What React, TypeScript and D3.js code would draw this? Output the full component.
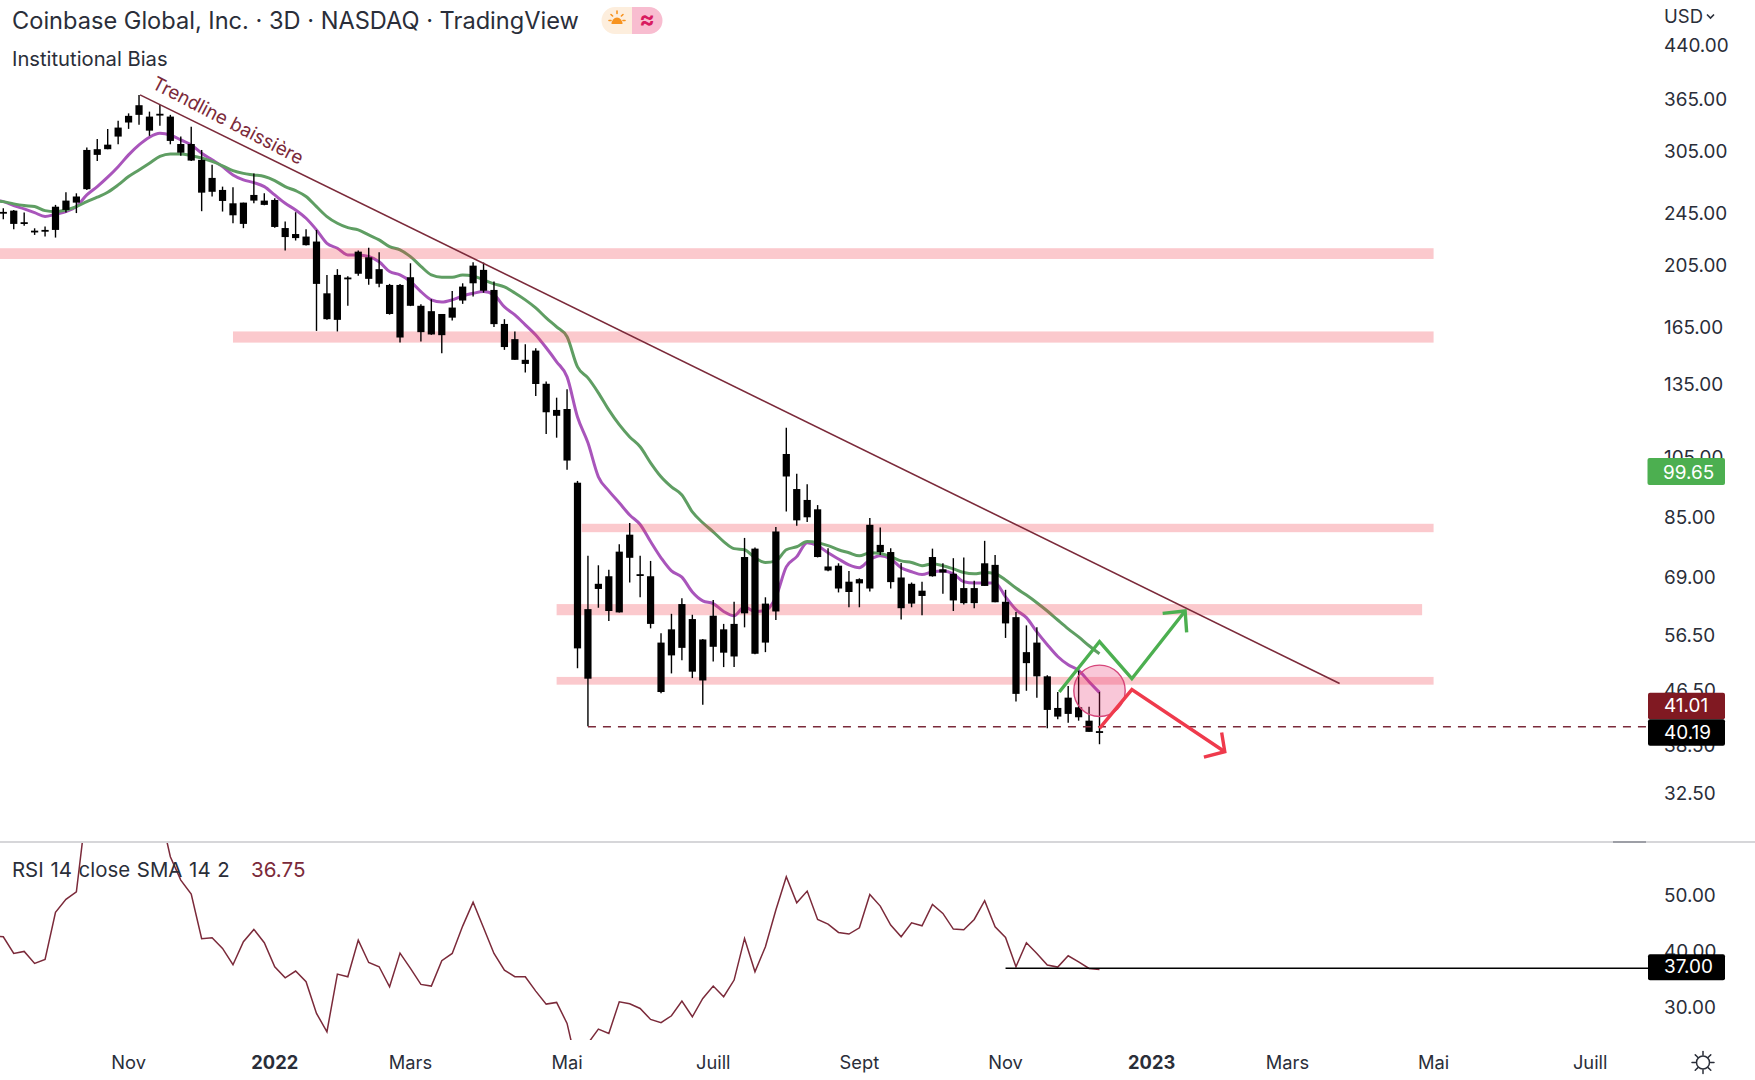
import React from "react";
import * as d3 from "d3";

const title = "Coinbase Global, Inc. · 3D · NASDAQ · TradingView";
const subtitle = "Institutional Bias";
const rsiLegend = "RSI 14 close SMA 14 2";

// Candle values in USD, index = 3-day bar number
const bodyTop = [246.6,247.7,237.9,231,231.6,251.1,256.5,260.2,306,306.8,311.7,330.8,344.6,357.6,343.7,347.1,343.7,312.4,312.4,295.6,277.6,266.2,254.1,254.7,261.6,256.5,257.1,233.1,228.3,226.3,222.4,185.7,198,196.2,214.7,210.5,202,191.2,191.2,196.4,177.8,174.5,172.8,176.7,190.1,204.5,201.5,187.9,166.9,158.3,147.3,152.1,135.5,123.7,124.1,96,61.8,67.5,69.3,75.5,80.1,69.8,69.3,55,57.6,62.9,59.7,55.6,60.4,57.6,58.7,74.1,76.3,63,81,106.1,93.9,90.4,87.5,71.7,71.9,68,68.6,82.9,77.3,75.4,69,67.5,65.9,74.1,71,69.9,66.5,66.5,72.5,72.1,63.4,60.1,53.2,55,48.9,43.8,45.4,43.9,41.9,40.4];
const bodyBottom = [245.5,236.5,236.8,230,230.5,231.6,248.3,254.7,266.9,300.8,306.8,320.6,336.7,345.8,327.3,345.8,315.8,303.1,294.9,263.7,264.5,256.2,243.7,236.5,256.5,252.7,234,225.9,225.1,219.6,191.9,169.7,169.3,195.3,198.8,195.3,192,172.8,159.2,177.8,162.2,160.9,160.5,170.6,181.1,192.3,187.4,166.8,154,147.3,145.2,135.4,122.7,121.2,103.7,53.9,48.5,66.3,61.4,61.1,73.9,69.5,58.7,46.3,52.6,54,49.7,48.2,54.2,53.1,52.4,60.9,52.9,55,61.3,98.1,84.2,85.1,74.1,70.7,66.4,65.6,67.6,66.4,75.4,67.9,62,63,64.7,69.3,70.2,63.7,63.1,63.1,67,63.3,58.8,46,51.2,48.9,43.5,42.5,42.9,42.4,40.3,40.19];
const highs = [249.8,248.3,246,232.9,234.3,252.7,264,263.1,308.5,318,329.3,338.9,347.6,370.7,349.7,358,345.8,320.6,331.9,306,290.5,269.3,268.7,254.7,282,263.1,258.7,238.4,246.3,232.2,231.6,198,202,197,215.5,217.7,214.3,191.9,191.9,206.2,178.7,181.9,172.8,187.2,192.3,206.9,206.7,193.5,169.7,162.6,155.5,153.3,136.6,129.1,133,96.6,74.4,72,70.9,77.5,83.4,74.4,73.1,56.8,60.8,64.2,60.6,55.7,63.8,58.7,63.4,79.2,76.6,64.4,82.3,116.3,99,95.5,88.8,76.4,72.5,70.6,68.8,84.9,82.1,76.4,72.6,67.8,68,76.3,72.5,73.8,74,68.2,78.4,74.6,66.1,61.2,58.4,58,49.1,46.3,47.3,49.9,44,46.3];
const lows = [240.4,232.2,235,227.6,226.3,225.5,246,245.6,266.2,294.5,306.8,312.1,329.3,334,321.4,332.8,312.1,300,294.5,247.2,260.2,246.9,237,233,254.1,252.4,233.4,215.5,223.2,219.4,162.9,169.3,162.6,177.8,197.4,191.3,189.7,172.4,156.4,177.6,157,160.7,150.7,168.9,179,183.6,186.1,165.2,152.5,147.3,140.9,129.9,113.8,112.3,100.4,50.3,41.1,62.1,59.3,61.1,67.8,64.4,57.8,46.1,49.4,51.7,48.6,44.3,51.5,50.5,50.5,58,52.8,53.2,59.5,86.8,82.6,83.7,74,70.5,65.5,62.2,62.2,65.7,74.6,66.4,59.6,62.2,60.5,69.2,65.2,61.4,62.8,62,67,63.3,55.9,44.8,46.5,45.4,40.8,42.1,41.6,41.9,40.3,38.6];

// Indicator series start one bar before the first visible candle
const maFast = [257,255.6,252.1,249.2,246,242.6,244.6,246.8,251.2,261.6,269.3,278.3,288.7,300.8,311.4,319.9,324.2,322.3,316.9,311.4,302.5,295.6,288.7,280.5,275.7,273.1,269.3,261.6,254.1,248.3,241.2,231.6,221,217.3,212.3,212.3,211.1,207.3,200.3,198,193.5,186.8,181.5,180.1,181.5,184,185.7,186.8,184.7,177.1,172.3,166.4,160.6,153.6,146.3,138.8,120.7,110.3,98,93.3,89.5,85.8,83,78.2,73.9,70.6,69.1,65.6,63.6,63,61.3,60.4,62.3,61.3,61.5,64.5,71.6,74.2,77.9,77.1,75.2,73.6,72.1,71.4,73.4,74.4,73.6,71.4,70.4,69.7,70.4,70.6,69.9,68,67.7,67.7,67.7,64.5,61.7,60,57.1,54.6,52.4,50.9,49.9,48,46.2];
const maSlow = [256.5,255.6,253.6,252.1,251.2,247.7,246.8,248.3,251.2,255.6,259.6,264.1,270.9,278.9,285.4,292.2,299.2,301.8,301.8,300,297.6,294,289.6,284.7,282,280.5,278.9,275,269.3,265.5,260.2,251.2,242.6,237,233.4,231.6,227.6,223.7,218.5,216,211,204,198,196.4,196.4,198,197.3,194.6,191.9,189.9,185.9,181.5,176.5,170.5,165.2,159.6,143.7,138.3,131.3,123.7,117.5,112.6,108.8,102.9,98,94.6,92,86.7,83.5,80.9,78.2,76.3,76,73.9,72.7,73.1,76,76.8,78.2,77.9,77.1,76,75.2,74.4,75.2,75,74.2,73.1,72.7,71.9,72.4,71.9,71.1,70.2,69.9,70.2,69.9,68.4,66.5,64.9,63.2,61.4,59.5,57.7,56.1,54.4,52.9];
const rsi = [42.7,42.58,39.62,39.98,37.85,38.56,46.91,49.22,50.58,66,70,70,71,73,76,69,65,56.79,52.65,50.16,42.23,42.41,40.51,37.61,41.7,43.89,41.52,37.26,35.3,36.49,34.59,28.97,25.71,35.95,35.48,41.99,38.02,37.26,33.7,39.68,36.96,34.12,33.82,38.32,39.62,44.48,48.74,44.18,39.62,36.66,35.48,35.48,32.93,30.62,30.92,27.19,19.2,23.64,26.18,25.41,31.04,30.68,29.85,27.9,27.31,28.55,31.16,28.37,31.63,33.82,31.93,34.89,42.29,36.37,40.81,47.32,53.24,48.62,50.69,45.66,44.83,43.35,43.06,44.18,50.1,48.03,44.66,42.58,45.07,44.54,48.33,46.73,43.95,43.83,45.66,48.98,44.36,42.47,37.26,41.52,39.62,37.55,37.2,39.21,38.14,36.96,36.75];

// Horizontal zones: [start bar, end bar, upper price, lower price]
const zones = [
  [-1, 137, 217.3, 209.3],
  [22, 137, 162.6, 156.4],
  [55.4, 137, 83.2, 80.8],
  [53, 135.9, 62.9, 60.5],
  [53, 137, 48.8, 47.5],
];
const trendline = [[13.1, 370.7], [128, 47.7]];
const greenArrow = [[101.15, 46.3], [105, 55.2], [108.1, 48.5], [113.2, 61.4]];
const greenHead = [[111.05, 60.9], [113.2, 61.4], [113.35, 57]];
const redArrow = [[105, 40.8], [108.1, 46.7], [117, 37.6]];
const redHead = [[116.7, 40.2], [117, 37.6], [115, 36.9]];
const circleCentre = [105, 46.5];
const supportPrice = 41.01;
const rsiLevel = 37;
const rsiLevelStart = 96;

const priceTicks = [440, 365, 305, 245, 205, 165, 135, 105, 85, 69, 56.5, 46.5, 38.5, 32.5];
const rsiTicks = [50, 40, 30];
const timeTicks = [
  ["Nov", 12], ["2022", 26], ["Mars", 39], ["Mai", 54], ["Juill", 68], ["Sept", 82],
  ["Nov", 96], ["2023", 110], ["Mars", 123], ["Mai", 137], ["Juill", 152],
] as [string, number][];

const FONT = "Inter, 'Noto Sans', sans-serif";
const INK = "#2a2e39";
const MAROON = "#7b2a3a";

export default function App() {
  const W = 1755, H = 1080;
  const axisX = 1648;
  const paneBottom = 842;
  const rsiBottom = 1040;
  const labelDy = 1.5;

  const x = d3.scaleLinear().domain([0, 105]).range([3.3, 1099.5]);
  const y = d3.scaleLog().domain([440, 32.5]).range([45.7, 793.6]);
  const yR = d3.scaleLinear().domain([50, 30]).range([895, 1007.6]);

  const maLine = d3.line<number>().x((_, i) => x(i - 1)).y(d => y(d)).curve(d3.curveMonotoneX);
  const rsiLine = d3.line<number>().x((_, i) => x(i - 1)).y(d => yR(d));
  const pathLine = d3.line<number[]>().x(d => x(d[0])).y(d => y(d[1]));

  return (
    <svg width={W} height={H} viewBox={`0 0 ${W} ${H}`}
      style={{ position: "absolute", left: 0, top: 0, background: "#fff", display: "block" }}
      fontFamily={FONT}>
      <defs>
        <clipPath id="pricePane"><rect x={0} y={0} width={axisX} height={paneBottom} /></clipPath>
        <clipPath id="rsiPane"><rect x={0} y={paneBottom + 1} width={axisX} height={rsiBottom - paneBottom - 1} /></clipPath>
      </defs>

      <g clipPath="url(#pricePane)">
        <path d={maLine(maFast) || ""} fill="none" stroke="#a955bb" strokeWidth={3} />
        <path d={maLine(maSlow) || ""} fill="none" stroke="#5f9e63" strokeWidth={3} />
        {zones.map((z, i) => (
          <rect key={i} x={x(z[0])} y={y(z[2])} width={x(z[1]) - x(z[0])} height={y(z[3]) - y(z[2])}
            fill="#f23645" fillOpacity={0.27} />
        ))}
        {bodyTop.map((t, i) => {
          const top = y(t), bot = y(bodyBottom[i]);
          return (
            <g key={i}>
              <line x1={x(i)} x2={x(i)} y1={y(highs[i])} y2={y(lows[i])} stroke="#000" strokeWidth={1.4} />
              <rect x={x(i) - 3.6} y={top} width={7.2} height={Math.max(bot - top, 1.8)} fill="#000" />
            </g>
          );
        })}
        <path d={pathLine(trendline) || ""} fill="none" stroke={MAROON} strokeWidth={1.6} />
        <line x1={x(56)} x2={axisX} y1={y(supportPrice)} y2={y(supportPrice)} stroke={MAROON} strokeWidth={1.5} strokeDasharray="8 7" />
        <circle cx={x(circleCentre[0])} cy={y(circleCentre[1])} r={25.7} fill="#e91e63" fillOpacity={0.25} stroke="#d6457a" strokeWidth={1.4} />
        <path d={pathLine(greenArrow) || ""} fill="none" stroke="#4caf50" strokeWidth={3.4} strokeLinejoin="miter" />
        <path d={pathLine(greenHead) || ""} fill="none" stroke="#4caf50" strokeWidth={3.4} />
        <path d={pathLine(redArrow) || ""} fill="none" stroke="#ef3a4c" strokeWidth={3.4} strokeLinejoin="miter" />
        <path d={pathLine(redHead) || ""} fill="none" stroke="#ef3a4c" strokeWidth={3.4} />
        <text transform="translate(153,83) rotate(27.5)" fontSize={18.8} fill={MAROON} dominantBaseline="middle">Trendline baissière</text>
      </g>

      {/* separators */}
      <line x1={0} x2={W} y1={paneBottom} y2={paneBottom} stroke="#c9c9cc" strokeWidth={1.5} />
      <line x1={1613} x2={1646} y1={paneBottom} y2={paneBottom} stroke="#8a8d94" strokeWidth={1.5} />

      {/* RSI pane */}
      <g clipPath="url(#rsiPane)">
        <path d={rsiLine(rsi) || ""} fill="none" stroke={MAROON} strokeWidth={1.5} />
        <line x1={x(rsiLevelStart)} x2={axisX} y1={yR(rsiLevel)} y2={yR(rsiLevel)} stroke="#000" strokeWidth={1.6} />
      </g>

      {/* legends */}
      <text x={12} y={22.5} fontSize={23.6} fill={INK} dominantBaseline="middle">{title}</text>
      <text x={12} y={60} fontSize={20.2} fill={INK} dominantBaseline="middle">{subtitle}</text>
      <text x={12} y={871.5} fontSize={20.4} fill={INK} dominantBaseline="middle" wordSpacing={1}>{rsiLegend}</text>
      <text x={251} y={871.5} fontSize={20.6} fill={MAROON} dominantBaseline="middle">36.75</text>

      {/* market status badge */}
      <path d="M632 7H615a13.5 13.5 0 0 0 0 27H632Z" fill="#fdeedd" />
      <path d="M632 7H649a13.5 13.5 0 0 1 0 27H632Z" fill="#f8bdd0" />
      <g stroke="#f7931e" strokeWidth={1.6} strokeLinecap="round">
        <line x1={617} x2={617} y1={11} y2={13.5} />
        <line x1={609} x2={611} y1={20.5} y2={20.5} />
        <line x1={623} x2={625} y1={20.5} y2={20.5} />
        <line x1={611} x2={612.6} y1={14.5} y2={16} />
        <line x1={623} x2={621.4} y1={14.5} y2={16} />
      </g>
      <path d="M611.5 24a5.5 6.5 0 0 1 11 0Z" fill="#f7931e" />
      <text x={647} y={21} fontSize={23} fontWeight={700} fill="#d81b60" textAnchor="middle" dominantBaseline="middle">≈</text>

      {/* price axis */}
      {priceTicks.map(t => (
        <text key={t} x={1664} y={y(t) + labelDy} fontSize={18.9} fill={INK} dominantBaseline="middle">{t.toFixed(2)}</text>
      ))}
      {rsiTicks.map(t => (
        <text key={t} x={1664} y={yR(t) + labelDy} fontSize={18.9} fill={INK} dominantBaseline="middle">{t.toFixed(2)}</text>
      ))}
      <text x={1664} y={18} fontSize={18.5} fill={INK} dominantBaseline="middle">USD</text>
      <path d="M1707 14.5l3.5 3.5 3.5-3.5" fill="none" stroke={INK} strokeWidth={1.6} />

      {/* value labels */}
      <g fontSize={18.9} dominantBaseline="middle" fill="#fff">
        <rect x={1647.5} y={458} width={77.5} height={27} rx={2} fill="#4caf50" />
        <text x={1663} y={y(99.65) + labelDy}>99.65</text>
        <rect x={1648} y={692.7} width={77} height={26.6} rx={2} fill="#801922" />
        <text x={1664} y={707}>41.01</text>
        <rect x={1648} y={719.3} width={77} height={26.4} rx={2} fill="#000" />
        <text x={1664} y={733.5}>40.19</text>
        <rect x={1648} y={954.3} width={77} height={26} rx={2} fill="#000" />
        <text x={1664} y={968.3}>37.00</text>
      </g>

      {/* time axis */}
      {timeTicks.map(([label, idx], i) => {
        const bold = /^\d/.test(label);
        return (
          <text key={i} x={x(idx)} y={1064} fontSize={18.3} fontWeight={bold ? 700 : 400} fill={INK}
            textAnchor="middle" dominantBaseline="middle">{label}</text>
        );
      })}

      {/* theme icon */}
      <g stroke={INK} strokeWidth={1.5} fill="none" strokeLinecap="round">
        <circle cx={1703} cy={1062.5} r={6.5} />
        {d3.range(8).map(k => {
          const a = (k * Math.PI) / 4;
          return <line key={k} x1={1703 + 7.5 * Math.cos(a)} y1={1062.5 + 7.5 * Math.sin(a)}
            x2={1703 + 11 * Math.cos(a)} y2={1062.5 + 11 * Math.sin(a)} />;
        })}
      </g>
    </svg>
  );
}
